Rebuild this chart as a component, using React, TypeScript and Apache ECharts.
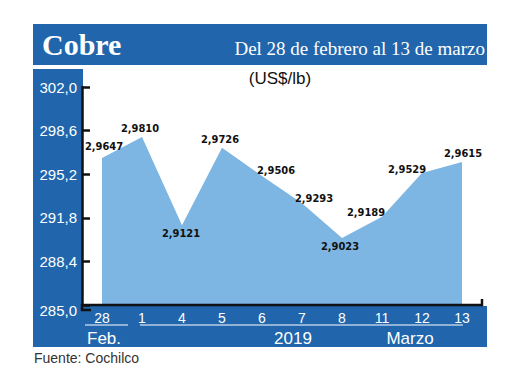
import React, { useEffect, useRef } from "react";
import * as echarts from "echarts";

const categories = ["28", "1", "4", "5", "6", "7", "8", "11", "12", "13"];
const prices = [2.9647, 2.981, 2.9121, 2.9726, 2.9506, 2.9293, 2.9023, 2.9189, 2.9529, 2.9615];
const yMin = 285.0;
const yMax = 302.0;
const yStep = 3.4;
const title = "Cobre";
const subtitle = "Del 28 de febrero al 13 de marzo";
const unit = "(US$/lb)";
const source = "Fuente: Cochilco";
const monthLabels = ["Feb.", "2019", "Marzo"];

// label offsets relative to each point (style only)
const labelOffsets: [number, number][] = [
  [2, -11], [-2, -9], [-1, 8], [-2, -8], [14, -5], [12, -5], [-2, 9], [-16, -4], [-15, -4], [1, -9],
];

const BLUE = "#2166ad";
const FILL = "#7db5e3";
const LABEL_FONT = "'Liberation Sans', Arial, sans-serif";

export default function App() {
  const ref = useRef<HTMLDivElement>(null);
  useEffect(() => {
    if (!ref.current) return;
    const chart = echarts.init(ref.current, null, { renderer: "svg" });
    const fmt = (v: number) => (yMin + v).toFixed(1).replace(".", ",");
    const seriesData = prices.map((p, i) => ({
      value: +(p * 100 - yMin).toFixed(4),
      label: { offset: labelOffsets[i] },
    }));
    chart.setOption({
      animation: false,
      grid: { left: 102, right: 58, top: 87, bottom: 85 },
      xAxis: {
        type: "category",
        data: categories,
        boundaryGap: false,
        axisLine: { show: false },
        axisTick: { show: false },
        axisLabel: { color: "#fff", fontSize: 14, margin: 6, fontFamily: LABEL_FONT },
      },
      yAxis: {
        type: "value",
        min: 0,
        max: yMax - yMin,
        interval: yStep,
        offset: 20,
        splitLine: { show: false },
        axisLine: { show: true, lineStyle: { color: "#111", width: 2.5 } },
        axisTick: { show: true, inside: true, length: 8, lineStyle: { color: "#111", width: 2.5 } },
        axisLabel: {
          color: "#fff",
          fontSize: 15,
          margin: 5,
          fontFamily: LABEL_FONT,
          formatter: (v: number) => (Math.abs(v) < 1e-6 ? "{low|" + fmt(v) + "}" : fmt(v)),
          rich: { low: { padding: [10, 0, 0, 0], color: "#fff", fontSize: 15, fontFamily: LABEL_FONT } },
        },
      },
      series: [
        {
          type: "line",
          data: seriesData,
          symbol: "circle",
          symbolSize: 1,
          itemStyle: { color: "rgba(0,0,0,0)" },
          lineStyle: { width: 0, color: FILL },
          areaStyle: { color: FILL, opacity: 1, origin: "start" },
          label: {
            show: true,
            position: "inside",
            color: "#111",
            fontWeight: "bold",
            fontSize: 11,
            fontFamily: "'DejaVu Sans Condensed', sans-serif",
            formatter: (p: any) => prices[p.dataIndex].toFixed(4).replace(".", ","),
          },
          z: 3,
        },
      ],
      graphic: [
        { type: "rect", z: -10, shape: { x: 33, y: 24, width: 454, height: 41 }, style: { fill: BLUE } },
        { type: "rect", z: -10, shape: { x: 33, y: 69, width: 50, height: 278 }, style: { fill: BLUE } },
        { type: "rect", z: -10, shape: { x: 33, y: 306, width: 454, height: 41 }, style: { fill: BLUE } },
        {
          type: "text", z: 10, x: 42, y: 44,
          style: { text: title, fill: "#fff", font: "bold 30px 'Liberation Serif', serif", verticalAlign: "middle", align: "left" },
        },
        {
          type: "text", z: 10, x: 485, y: 48,
          style: { text: subtitle, fill: "#fff", font: "19px 'Liberation Serif', serif", verticalAlign: "middle", align: "right" },
        },
        {
          type: "text", z: 10, x: 280, y: 78,
          style: { text: unit, fill: "#111", font: "17px 'Liberation Sans', sans-serif", verticalAlign: "middle", align: "center" },
        },
        { type: "line", z: 10, shape: { x1: 82, y1: 305, x2: 482, y2: 305 }, style: { stroke: "#111", lineWidth: 2.5 } },
        { type: "line", z: 10, shape: { x1: 482, y1: 306.2, x2: 482, y2: 299 }, style: { stroke: "#111", lineWidth: 2.5 } },
        { type: "polyline", z: 10, shape: { points: [[82, 304], [82, 310], [91, 310]] }, style: { stroke: "#111", lineWidth: 2.5, fill: "none" } },
        { type: "line", z: 10, shape: { x1: 85, y1: 325, x2: 128, y2: 325 }, style: { stroke: "#fff", lineWidth: 1 } },
        { type: "line", z: 10, shape: { x1: 140, y1: 325, x2: 463, y2: 325 }, style: { stroke: "#fff", lineWidth: 1 } },
        {
          type: "text", z: 10, x: 87, y: 338,
          style: { text: monthLabels[0], fill: "#fff", font: "17px 'Liberation Sans', sans-serif", verticalAlign: "middle", align: "left" },
        },
        {
          type: "text", z: 10, x: 293, y: 338,
          style: { text: monthLabels[1], fill: "#fff", font: "17px 'Liberation Sans', sans-serif", verticalAlign: "middle", align: "center" },
        },
        {
          type: "text", z: 10, x: 410, y: 338,
          style: { text: monthLabels[2], fill: "#fff", font: "17px 'Liberation Sans', sans-serif", verticalAlign: "middle", align: "center" },
        },
        {
          type: "text", z: 10, x: 34, y: 358,
          style: { text: source, fill: "#333", font: "14px 'Liberation Sans', sans-serif", verticalAlign: "middle", align: "left" },
        },
      ],
    });
    return () => chart.dispose();
  }, []);
  return <div ref={ref} style={{ width: 520, height: 390, position: "absolute", left: 0, top: 0 }} />;
}
